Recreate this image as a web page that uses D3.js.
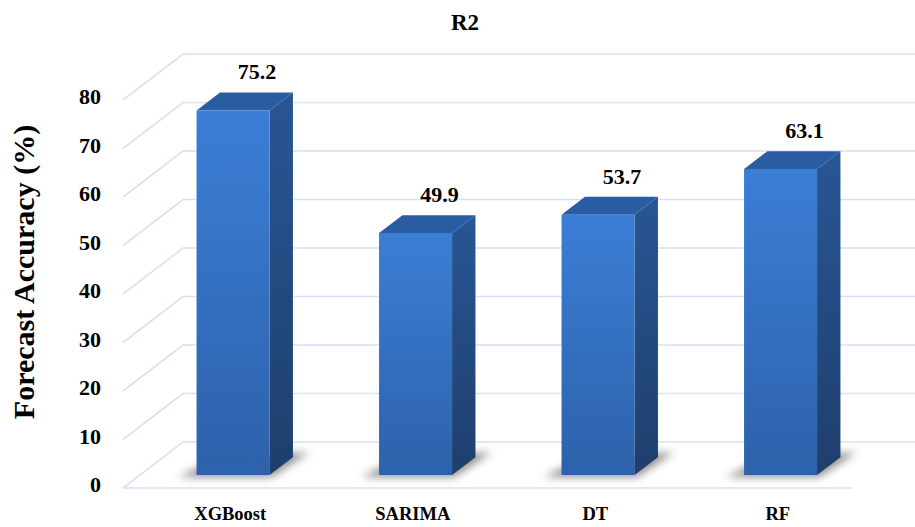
<!DOCTYPE html>
<html>
<head>
<meta charset="utf-8">
<script src="https://cdn.jsdelivr.net/npm/d3@7"></script>
<style>
  body { margin: 0; background: #fff; }
  text { font-family: "Liberation Serif", "Times New Roman", serif; font-weight: bold; fill: #000; }
</style>
</head>
<body>
<div id="chart"></div>
<script>
const categories = ["XGBoost", "SARIMA", "DT", "RF"];
const accuracy = [75.2, 49.9, 53.7, 63.1];
const yTicks = [0, 10, 20, 30, 40, 50, 60, 70, 80];

const width = 915, height = 527;

// oblique depth of the back wall, and where bars sit inside it
const DX = 60, DY = -46;
const F0 = 0.28, F1 = 0.67;

const y = d3.scaleLinear().domain([0, 80]).range([488, 100]);
const x = d3.scaleBand().domain(categories).range([125, 855]);
const barW = x.bandwidth() * 0.4;

function pt(xf, v, f) {
	return [xf + f * DX, y(v) + f * DY];
}

const svg = d3.select("#chart").append("svg")
	.attr("width", width)
	.attr("height", height);

const defs = svg.append("defs");

let front = defs.append("linearGradient").attr("id", "front").attr("x1", 0).attr("y1", 0).attr("x2", 0).attr("y2", 1);
front.append("stop").attr("offset", "0%").attr("stop-color", "#3b7ed6");
front.append("stop").attr("offset", "100%").attr("stop-color", "#2d61aa");

let side = defs.append("linearGradient").attr("id", "side").attr("x1", 0).attr("y1", 0).attr("x2", 0).attr("y2", 1);
side.append("stop").attr("offset", "0%").attr("stop-color", "#285694");
side.append("stop").attr("offset", "100%").attr("stop-color", "#1e3f6c");

defs.append("filter").attr("id", "blur")
	.attr("x", "-50%").attr("y", "-50%").attr("width", "200%").attr("height", "200%")
	.append("feGaussianBlur").attr("stdDeviation", 4);

// Title
svg.append("text")
	.attr("x", 465).attr("y", 30)
	.attr("text-anchor", "middle")
	.style("font-size", "23px")
	.text("R2");

// Gridlines: left wall diagonal + back wall horizontal
const grid = svg.append("g")
	.attr("stroke", "#d5e2f4")
	.attr("stroke-width", 1.6)
	.attr("fill", "none");

grid.selectAll("path.grid")
	.data(yTicks)
	.enter().append("path")
	.attr("class", "grid")
	.attr("d", d => {
		let a = pt(123, d, 0), b = pt(123, d, 1);
		return d3.line()([a, b, [width, b[1]]]);
	});

// front floor edge
grid.append("line")
	.attr("x1", 123).attr("x2", 852)
	.attr("y1", y(0)).attr("y2", y(0));

// Y ticks
svg.append("g").selectAll("text")
	.data(yTicks)
	.enter().append("text")
	.attr("x", 101)
	.attr("y", d => y(d) + 4)
	.attr("text-anchor", "end")
	.style("font-size", "22px")
	.text(d => d);

svg.append("text")
	.attr("transform", "translate(34,272) rotate(-90)")
	.attr("text-anchor", "middle")
	.style("font-size", "30px")
	.text("Forecast Accuracy (%)");

// Category labels
svg.append("g").selectAll("text")
	.data(categories)
	.enter().append("text")
	.attr("x", d => x(d) + x.bandwidth() / 2 + 14)
	.attr("y", 520)
	.attr("text-anchor", "middle")
	.style("font-size", "18.5px")
	.text(d => d);

const bars = categories.map((c, i) => ({
	name: c,
	value: accuracy[i],
	xl: x(c) + x.bandwidth() / 2 - barW / 2,
	xr: x(c) + x.bandwidth() / 2 + barW / 2
}));

const poly = pts => "M" + pts.map(p => p.join(",")).join("L") + "Z";

// Shadows on the floor
svg.append("g").selectAll("path")
	.data(bars)
	.enter().append("path")
	.attr("d", d => {
		let a = pt(d.xl, 0, F0), b = pt(d.xr, 0, F0), c = pt(d.xr, 0, F1), e = pt(d.xl, 0, F1);
		return poly([[a[0] - 18, a[1] + 2], [b[0] + 2, b[1] + 2], [c[0] + 16, c[1] - 5], e]);
	})
	.attr("fill", "#444")
	.attr("opacity", 0.6)
	.attr("filter", "url(#blur)");

const barG = svg.append("g").selectAll("g")
	.data(bars)
	.enter().append("g");

barG.append("path")
	.attr("d", d => poly([pt(d.xr, 0, F0), pt(d.xr, 0, F1), pt(d.xr, d.value, F1), pt(d.xr, d.value, F0)]))
	.attr("fill", "url(#side)");

barG.append("path")
	.attr("d", d => poly([pt(d.xl, d.value, F0), pt(d.xr, d.value, F0), pt(d.xr, d.value, F1), pt(d.xl, d.value, F1)]))
	.attr("fill", "#2a5ca1");

barG.append("path")
	.attr("d", d => poly([pt(d.xl, 0, F0), pt(d.xr, 0, F0), pt(d.xr, d.value, F0), pt(d.xl, d.value, F0)]))
	.attr("fill", "url(#front)");

// Value labels, a bit right of the front face centre
barG.append("text")
	.attr("x", d => pt((d.xl + d.xr) / 2, d.value, F0)[0] + 24)
	.attr("y", d => pt(d.xl, d.value, F1)[1] - 13)
	.attr("text-anchor", "middle")
	.style("font-size", "22px")
	.text(d => d.value.toFixed(1));
</script>
</body>
</html>
